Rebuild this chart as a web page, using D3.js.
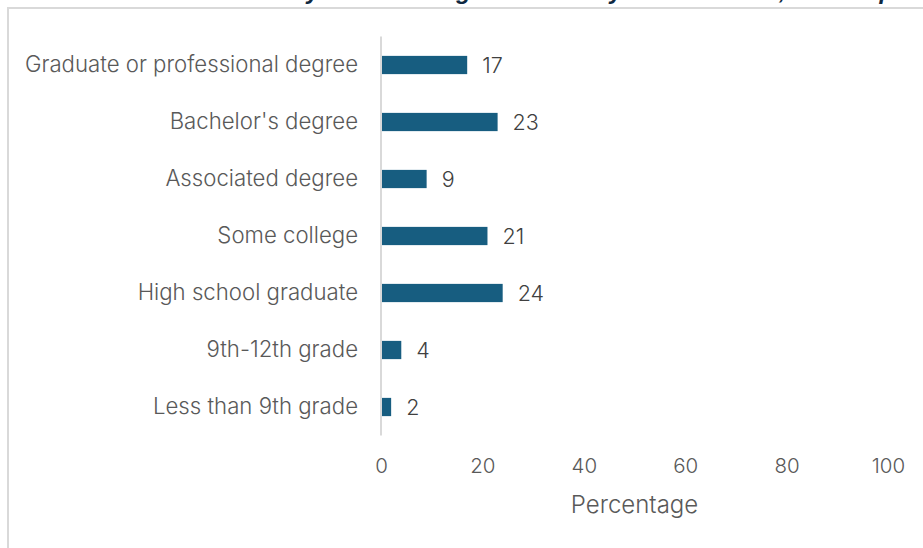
<!DOCTYPE html>
<html>
<head>
<meta charset="utf-8">
<script src="https://cdn.jsdelivr.net/npm/d3@7"></script>
<style>
  html, body { margin: 0; padding: 0; background: #ffffff; }
  svg { display: block; }
</style>
</head>
<body>
<svg id="chart" width="923" height="548"></svg>
<script>
// Educational attainment categories, top to bottom
const categories = [
  "Graduate or professional degree",
  "Bachelor's degree",
  "Associated degree",
  "Some college",
  "High school graduate",
  "9th-12th grade",
  "Less than 9th grade"
];
// Share of respondents (%)
const values = [17, 23, 9, 21, 24, 4, 2];
// Horizontal axis ticks
const xTicks = [0, 20, 40, 60, 80, 100];

const titleText = "Educational Attainment by Race and Age and County of Residence, All Sample Adults";
const axisTitle = "Percentage";

const svg = d3.select("#chart");
const FONT = "Inter, 'Open Sans', 'Liberation Sans', sans-serif";

// chart frame
svg.append("rect")
  .attr("x", 8).attr("y", 8)
  .attr("width", 940).attr("height", 560)
  .attr("fill", "#ffffff")
  .attr("stroke", "#d9d9d9")
  .attr("stroke-width", 2);

// title (sits above the frame top)
svg.append("text")
  .attr("x", 18)
  .attr("y", -1)
  .attr("font-family", "'Liberation Sans', Arial, sans-serif")
  .attr("font-size", 24)
  .attr("font-weight", "bold")
  .attr("font-style", "italic")
  .attr("fill", "#0e2841")
  .text(titleText);

const x = d3.scaleLinear().domain([0, 100]).range([381, 888]);
const y = d3.scaleBand().domain(categories).range([36.5, 435.5]).paddingInner(0.68).paddingOuter(0.34);

// bars
svg.append("g").selectAll("rect")
  .data(values)
  .join("rect")
  .attr("x", x(0))
  .attr("y", (d, i) => y(categories[i]))
  .attr("width", d => x(d) - x(0))
  .attr("height", y.bandwidth())
  .attr("fill", "#175d80");

// vertical axis line
svg.append("line")
  .attr("x1", x(0)).attr("x2", x(0))
  .attr("y1", 36.5).attr("y2", 435.5)
  .attr("stroke", "#d9d9d9")
  .attr("stroke-width", 2);

// category labels
const yAxis = d3.axisLeft(y).tickSize(0).tickPadding(23);
const gy = svg.append("g").attr("transform", `translate(${x(0)},0)`).call(yAxis);
gy.select(".domain").remove();
gy.selectAll("text")
  .attr("font-family", FONT)
  .attr("font-size", 22.2)
  .attr("font-weight", 300)
  .attr("fill", "#595959");

// value labels
svg.append("g").selectAll("text")
  .data(values)
  .join("text")
  .attr("x", d => x(d) + 15)
  .attr("y", (d, i) => y(categories[i]) + y.bandwidth() / 2)
  .attr("dy", "0.36em")
  .attr("font-family", FONT)
  .attr("font-size", 21.5)
  .attr("font-weight", 300)
  .attr("fill", "#404040")
  .text(d => d);

// horizontal axis tick labels
const xAxis = d3.axisBottom(x).tickValues(xTicks).tickSize(0).tickPadding(0);
const gx = svg.append("g").attr("transform", "translate(0,458)").call(xAxis);
gx.select(".domain").remove();
gx.selectAll("text")
  .attr("font-family", FONT)
  .attr("font-size", 20.5)
  .attr("font-weight", 300)
  .attr("fill", "#595959");

// axis title
svg.append("text")
  .attr("x", (x(0) + x(100)) / 2)
  .attr("y", 513)
  .attr("text-anchor", "middle")
  .attr("font-family", FONT)
  .attr("font-size", 24)
  .attr("font-weight", 300)
  .attr("fill", "#595959")
  .text(axisTitle);
</script>
</body>
</html>
